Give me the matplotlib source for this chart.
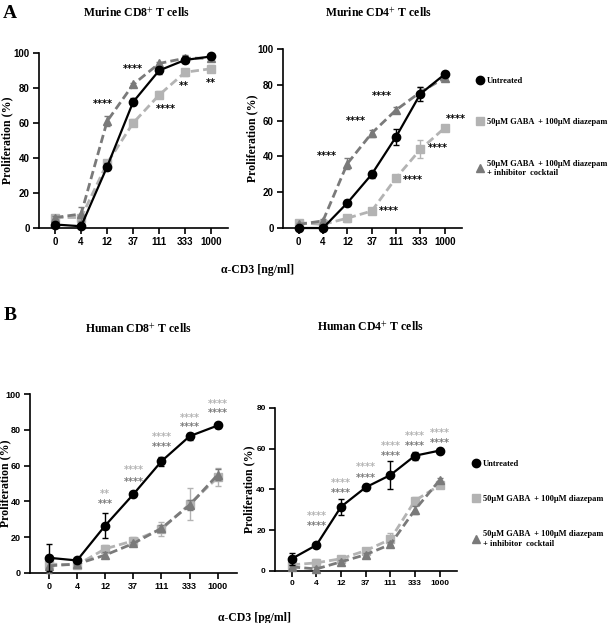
import matplotlib
matplotlib.use('Agg')
import matplotlib.pyplot as plt
from matplotlib.lines import Line2D

plt.rcParams['mathtext.fontset'] = 'stix'

# Data
doses = ['0', '4', '12', '37', '111', '333', '1000']
labels = ['Untreated', '50\u03bcM GABA  + 100\u03bcM diazepam',
          '50\u03bcM GABA  + 100\u03bcM diazepam\n+ inhibitor  cocktail']

# Murine CD8
m8_untr = [2, 1, 35, 72, 90, 96, 98]
m8_untr_err = [1, 1, 2, 2, 2, 2, 1]
m8_gaba = [6, 6, 37, 60, 76, 89, 91]
m8_gaba_err = [1, 2, 2, 2, 2, 2, 2]
m8_inh = [6, 8, 61, 82, 94, 97, 97]
m8_inh_err = [1, 4, 3, 1, 1, 2, 1]
m8_stars = [(1.85, 71, '****'), (3.0, 91, '****'), (4.27, 68, '****'),
            (4.96, 81, '**'), (6.0, 83, '**')]

# Murine CD4
m4_untr = [0, 0, 14, 30, 51, 75, 86]
m4_untr_err = [0.5, 0.5, 1.5, 2, 4.5, 4, 1.5]
m4_gaba = [3, 2, 5.5, 9.5, 28, 44, 56]
m4_gaba_err = [1, 1, 2, 1, 1.5, 5, 1]
m4_inh = [2, 4, 36, 53, 66, 76, 84]
m4_inh_err = [1, 1, 3, 2, 1.5, 3, 1]
m4_stars = [(1.16, 40, '****'), (2.35, 60, '****'), (3.42, 74, '****'),
            (6.45, 61, '****'), (5.71, 45, '****'), (4.69, 27, '****'),
            (3.7, 9.5, '****')]

# Human CD8
h8_untr = [8.5, 7, 26.5, 44, 62.5, 76.5, 82.5]
h8_untr_err = [7.5, 1, 7, 1, 2.5, 2, 1.5]
h8_gaba = [5, 4.5, 13.5, 18, 24.5, 38.5, 53.5]
h8_gaba_err = [5, 1, 2, 2, 4, 9, 5]
h8_inh = [4, 5, 10, 16.5, 25, 38, 55]
h8_inh_err = [4, 1, 1.5, 1, 2, 3, 3]
h8_stars_light = [(2, 44, '**'), (3, 57.5, '****'), (4, 76, '****'),
                  (5, 86.5, '****'), (6, 94.5, '****')]
h8_stars_dark = [(2, 38.5, '***'), (3, 51, '****'), (4, 70.5, '****'),
                 (5, 81.5, '****'), (6, 89.5, '****')]

# Human CD4
h4_untr = [6, 12.7, 31.5, 41, 47, 56.5, 59]
h4_untr_err = [3, 1, 4, 1.5, 7, 2, 1]
h4_gaba = [3, 4, 6, 10, 15.5, 34.5, 42]
h4_gaba_err = [1, 2, 1, 1, 3, 2, 1]
h4_inh = [2, 1, 4.5, 8, 13, 30, 44.5]
h4_inh_err = [1, 1, 1, 1, 1, 2, 1]
h4_stars_light = [(1, 27, '****'), (2, 43.3, '****'), (3, 51, '****'),
                  (4, 61.4, '****'), (5, 66.4, '****'), (6, 67.8, '****')]
h4_stars_dark = [(1, 22, '****'), (2, 38.4, '****'), (3, 45.6, '****'),
                 (4, 56.4, '****'), (5, 61.4, '****'), (6, 62.9, '****')]

BLACK = '#000000'
LIGHT = '#b3b3b3'
DARK = '#7a7a7a'
SERIF = 'Liberation Serif'
TICKFONT = ['Liberation Sans Narrow', 'Liberation Sans', 'DejaVu Sans']

fig = plt.figure(figsize=(6.08, 6.23), dpi=100)


def panel(rect, untr, untr_err, gaba, gaba_err, inh, inh_err, ymax, ystep,
          xlim, ylabel_x, tick_size=7):
    ax = fig.add_axes(rect)
    x = list(range(len(doses)))
    ax.errorbar(x, gaba, yerr=gaba_err, color=LIGHT, ls=(0, (3, 1.5)), lw=2,
                marker='s', ms=6, capsize=2.5, elinewidth=1, clip_on=False, zorder=2)
    ax.errorbar(x, inh, yerr=inh_err, color=DARK, ls=(0, (3, 1.5)), lw=2,
                marker='^', ms=6, capsize=2.5, elinewidth=1, clip_on=False, zorder=3)
    ax.errorbar(x, untr, yerr=untr_err, color=BLACK, ls='-', lw=1.6,
                marker='o', ms=6, capsize=2.5, elinewidth=1, clip_on=False, zorder=4)
    ax.set_xlim(*xlim)
    ax.set_ylim(0, ymax)
    ax.set_xticks(x)
    ax.set_xticklabels(doses)
    ax.set_yticks(range(0, ymax + 1, ystep))
    for s in ['top', 'right']:
        ax.spines[s].set_visible(False)
    for s in ['left', 'bottom']:
        ax.spines[s].set_linewidth(1.2)
    ax.tick_params(width=1.2, length=4, pad=2.5)
    for t in ax.get_xticklabels() + ax.get_yticklabels():
        t.set_family(TICKFONT)
        t.set_fontsize(tick_size)
        t.set_fontweight('bold')
    ax.set_ylabel('Proliferation (%)', family=SERIF, fontweight='bold', fontsize=8.5)
    ax.yaxis.set_label_coords(ylabel_x, 0.5)
    return ax


def stars(ax, items, color):
    for xs, ys, s in items:
        ax.text(xs, ys, s, color=color, fontsize=7, fontweight='bold',
                ha='center', va='center', family='DejaVu Sans')


def legend(ax, anchor, spacing):
    handles = [Line2D([], [], color=BLACK, marker='o', ls='none', ms=6),
               Line2D([], [], color=LIGHT, marker='s', ls='none', ms=6),
               Line2D([], [], color=DARK, marker='^', ls='none', ms=6)]
    ax.legend(handles, labels, loc='upper left', bbox_to_anchor=anchor,
              bbox_transform=fig.transFigure, frameon=False,
              prop={'family': SERIF, 'weight': 'bold', 'size': 6},
              handletextpad=0.2, handlelength=1.2, labelspacing=spacing,
              borderpad=0)


# A left
ax1 = panel([0.0641, 0.634, 0.311, 0.281], m8_untr, m8_untr_err, m8_gaba, m8_gaba_err,
            m8_inh, m8_inh_err, 100, 20, (-0.62, 6.65), -0.135)
stars(ax1, m8_stars, BLACK)

# A right
ax2 = panel([0.4655, 0.634, 0.294, 0.287], m4_untr, m4_untr_err, m4_gaba, m4_gaba_err,
            m4_inh, m4_inh_err, 100, 20, (-0.64, 6.7), -0.14)
stars(ax2, m4_stars, BLACK)
legend(ax2, (0.775, 0.883), 4.0)

# B left
ax3 = panel([0.0493, 0.0803, 0.340, 0.287], h8_untr, h8_untr_err, h8_gaba, h8_gaba_err,
            h8_inh, h8_inh_err, 100, 20, (-0.67, 6.67), -0.09, tick_size=6.5)
stars(ax3, h8_stars_light, LIGHT)
stars(ax3, h8_stars_dark, DARK)

# B right
ax4 = panel([0.452, 0.0835, 0.299, 0.262], h4_untr, h4_untr_err, h4_gaba, h4_gaba_err,
            h4_inh, h4_inh_err, 80, 20, (-0.69, 6.69), -0.11, tick_size=6)
stars(ax4, h4_stars_light, LIGHT)
stars(ax4, h4_stars_dark, DARK)
legend(ax4, (0.768, 0.268), 3.25)

# Titles and labels
fig.text(0.225, 0.979, r'Murine CD8$^{+}$ T cells', family=SERIF, fontweight='bold',
         fontsize=8.5, ha='center', va='center')
fig.text(0.622, 0.979, r'Murine CD4$^{+}$ T cells', family=SERIF, fontweight='bold',
         fontsize=8.5, ha='center', va='center')
fig.text(0.227, 0.472, r'Human CD8$^{+}$ T cells', family=SERIF, fontweight='bold',
         fontsize=8.5, ha='center', va='center')
fig.text(0.609, 0.474, r'Human CD4$^{+}$ T cells', family=SERIF, fontweight='bold',
         fontsize=8.5, ha='center', va='center')
fig.text(0.016, 0.979, 'A', family=SERIF, fontweight='bold', fontsize=14,
         ha='center', va='center')
fig.text(0.016, 0.494, 'B', family=SERIF, fontweight='bold', fontsize=14,
         ha='center', va='center')
fig.text(0.424, 0.567, '\u03b1-CD3 [ng/ml]', family=SERIF, fontweight='bold',
         fontsize=8.5, ha='center', va='center')
fig.text(0.418, 0.008, '\u03b1-CD3 [pg/ml]', family=SERIF, fontweight='bold',
         fontsize=8.5, ha='center', va='center')

fig.savefig('out.png', dpi=100)
